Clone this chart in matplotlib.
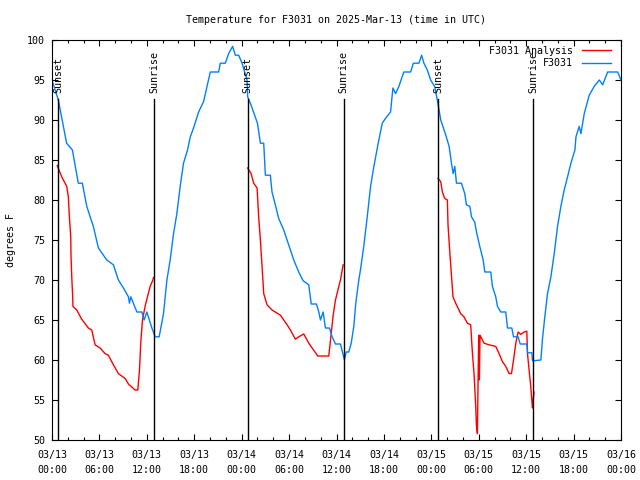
import numpy as np
import pandas as pd
import matplotlib
matplotlib.use("Agg")
from matplotlib import pyplot as plt
import matplotlib.dates as mdates

# Observed temperature (hours after 2025-03-13 00:00 UTC, degrees F)
obs_hours = [0.0, 0.8, 1.85, 2.58, 3.33, 3.84, 4.4, 5.23, 5.87, 6.93, 7.77, 8.4, 9.04, 9.67, 9.8, 9.97,
             10.74, 11.37, 11.66, 12.0, 12.64, 13.05, 13.56, 14.11, 14.54, 14.95, 15.38, 15.8, 16.22,
             16.64, 17.15, 17.5, 17.91, 18.55, 19.18, 20.03, 21.08, 21.3, 21.93, 22.35, 22.86, 23.2,
             23.62, 24.05, 24.68, 24.76, 25.1, 26.0, 26.37, 26.79, 27.0, 27.63, 27.84, 28.26, 28.68,
             29.32, 29.75, 30.17, 30.59, 31.22, 31.78, 32.49, 32.8, 33.46, 33.76, 33.97, 34.31, 34.6,
             35.11, 35.45, 35.87, 36.5, 37.0, 37.22, 37.55, 37.86, 38.19, 38.44, 38.82, 39.03, 39.45,
             39.89, 40.31, 40.73, 41.2, 41.79, 42.2, 42.84, 43.14, 43.48, 43.89, 44.52, 45.38, 45.72,
             46.43, 46.77, 47.06, 47.49, 47.91, 48.42, 48.85, 49.19, 49.83, 50.25, 50.55, 50.76, 50.97,
             51.18, 51.81, 52.23, 52.44, 52.87, 53.08, 53.5, 53.71, 54.13, 54.56, 54.77, 55.52, 55.73,
             56.15, 56.37, 56.79, 57.42, 57.64, 58.18, 58.4, 58.98, 59.24, 60.08, 60.17, 60.72, 60.8,
             61.86, 62.07, 62.36, 62.7, 63.13, 63.55, 63.97, 64.39, 64.81, 65.24, 65.66, 66.17, 66.3,
             66.71, 66.93, 67.35, 67.98, 68.61, 69.25, 69.68, 70.31, 71.58, 72.0]
obs_temps = [95.0, 92.5, 87.1, 86.25, 82.1, 82.1, 79.2, 76.7, 74.0, 72.5, 71.9, 70.0, 69.0, 67.9, 67.1, 67.9,
             66.0, 66.0, 65.0, 66.0, 64.0, 62.9, 62.9, 65.8, 70.0, 72.5, 75.8, 78.3, 81.7,
             84.6, 86.25, 87.9, 89.0, 91.0, 92.3, 96.0, 96.0, 97.1, 97.1, 98.3, 99.2, 98.1,
             98.1, 97.1, 95.0, 92.9, 92.1, 89.6, 87.1, 87.1, 83.1, 83.1, 81.0, 79.4, 77.7,
             76.25, 75.0, 73.75, 72.5, 71.0, 69.9, 69.4, 67.0, 67.0, 66.0, 65.0, 66.0, 64.0,
             64.0, 62.9, 62.0, 62.0, 60.0, 61.0, 61.0, 62.1, 64.2, 67.1, 70.0, 71.25, 74.2,
             77.9, 81.7, 84.2, 86.7, 89.6, 90.2, 91.0, 94.0, 93.3, 94.2, 96.0, 96.0, 97.1,
             97.1, 98.1, 97.1, 96.25, 95.0, 94.2, 92.0, 90.0, 88.1, 86.7, 84.6, 83.3, 84.2,
             82.1, 82.1, 80.8, 79.4, 79.2, 77.9, 77.2, 76.0, 74.2, 72.5, 71.0, 71.0, 69.2,
             67.9, 66.7, 66.0, 66.0, 64.0, 64.0, 62.9, 62.9, 62.0, 62.0, 60.9, 60.9, 59.9,
             60.0, 62.7, 65.4, 68.3, 70.4, 73.3, 76.7, 79.2, 81.25, 82.9, 84.6, 86.25, 87.9,
             89.2, 88.3, 90.8, 93.1, 94.2, 95.0, 94.4, 96.0, 96.0, 95.0]

# Analysis (overnight only, NaN separates the nights)
ana_hours = [0.67, 1.23, 1.86, 2.07, 2.2, 2.37, 2.41, 2.5, 2.62, 2.65, 3.13, 3.76, 4.6, 5.03, 5.45, 6.08,
             6.72, 7.13, 7.77, 8.4, 9.25, 9.67, 10.52, 10.86, 11.07, 11.24, 11.45, 11.79, 12.08, 12.42,
             12.77, 12.84, 12.9,
             24.76, 25.19, 25.52, 25.95, 26.15, 26.37, 26.58, 26.79, 27.21, 27.84, 28.9, 29.75, 30.17,
             30.8, 31.22, 31.86, 32.49, 32.92, 33.63, 35.02, 35.24, 35.58, 35.87, 36.29, 36.5, 36.84,
             36.9,
             48.85, 49.19, 49.4, 49.69, 50.03, 50.11, 50.32, 50.53, 50.66, 50.74, 51.08, 51.71, 52.13,
             52.56, 52.98, 53.19, 53.4, 53.62, 53.7, 53.83, 53.91, 54.0, 54.08, 54.16, 54.67, 55.3,
             56.15, 56.57, 57.0, 57.42, 57.84, 58.14, 58.4, 58.69, 58.98, 59.32, 59.74, 60.08, 60.17,
             60.37, 60.58, 60.71, 60.8, 60.88, 61.0]
ana_temps = [84.3, 82.9, 81.7, 80.4, 77.9, 75.4, 72.9, 70.4, 67.9, 66.7, 66.25, 65.1, 64.0, 63.75, 61.9, 61.5,
             60.8, 60.6, 59.4, 58.3, 57.7, 57.0, 56.25, 56.25, 58.75, 62.3, 65.0, 66.75, 67.9, 69.2,
             70.0, 70.3, np.nan,
             84.0, 83.3, 82.1, 81.5, 77.9, 75.0, 71.7, 68.3, 66.9, 66.25, 65.6, 64.4, 63.75,
             62.6, 62.9, 63.25, 62.1, 61.5, 60.5, 60.5, 62.5, 65.6, 67.5, 69.2, 70.0, 71.9,
             np.nan,
             82.7, 82.3, 81.0, 80.2, 80.0, 76.9, 73.75, 70.8, 69.0, 67.9, 67.1, 65.8, 65.4,
             64.6, 64.4, 61.0, 58.3, 54.2, 51.9, 50.8, 57.1, 63.1, 57.5, 63.1, 62.1, 61.9,
             61.7, 60.8, 59.8, 59.2, 58.3, 58.3, 60.0, 62.1, 63.5, 63.2, 63.5, 63.6, 60.8,
             58.75, 56.7, 55.0, 54.0, 55.0, 56.0]

# Sunset / sunrise markers
sun_hours = [0.8, 12.9, 24.76, 36.9, 48.85, 60.9]
sun_labels = ["Sunset", "Sunrise", "Sunset", "Sunrise", "Sunset", "Sunrise"]

start = pd.Timestamp("2025-03-13 00:00")
def to_time(hours):
    return start + pd.to_timedelta(np.array(hours, dtype=float), unit="h")

plt.rcParams["font.family"] = ["DejaVu Sans Mono"]
plt.rcParams["font.size"] = 7.2

fig = plt.figure(figsize=(6.4, 4.8), dpi=100)
ax = fig.add_axes([52 / 640, 40 / 480, 569 / 640, 400 / 480])

ax.plot(to_time(ana_hours), ana_temps, color="#ff0000", lw=1.0, label="F3031 Analysis")
ax.plot(to_time(obs_hours), obs_temps, color="#0080ff", lw=1.0, label="F3031")

# vertical sun lines with rotated labels
for h, lab in zip(sun_hours, sun_labels):
    t = to_time([h])[0]
    ax.plot([t, t], [50, 92.6], color="black", lw=1.0)
    ax.text(t, 93.4, lab, rotation=90, ha="center", va="bottom", fontsize=7.2)

ax.set_xlim(start, start + pd.Timedelta(hours=72))
ax.set_ylim(50, 100)
ax.set_yticks(np.arange(50, 101, 5))
ax.xaxis.set_major_locator(mdates.HourLocator(byhour=range(0, 24, 6)))
ax.xaxis.set_minor_locator(mdates.HourLocator(byhour=range(0, 24, 2)))
ax.xaxis.set_major_formatter(mdates.DateFormatter("%m/%d\n%H:%M"))
ax.tick_params(which="both", direction="in", top=True, right=True, width=0.8)
ax.tick_params(which="major", length=4.5)
ax.tick_params(which="minor", length=2.5)
ax.tick_params(axis="x", which="major", pad=7)
ax.tick_params(axis="y", pad=5)
for lab in ax.get_xticklabels():
    lab.set_linespacing(1.7)
for s in ax.spines.values():
    s.set_linewidth(0.8)

ax.set_title("Temperature for F3031 on 2025-Mar-13 (time in UTC)", fontsize=7.2, pad=12)
ax.set_ylabel("degrees F", labelpad=8)

ax.legend(loc="upper right", frameon=False, markerfirst=False, handlelength=2.9,
          handletextpad=0.9, labelspacing=0.25, borderaxespad=0.3, fontsize=7.2,
          bbox_to_anchor=(0.994, 1.003))

fig.savefig("out.png", dpi=100)
plt.close(fig)
